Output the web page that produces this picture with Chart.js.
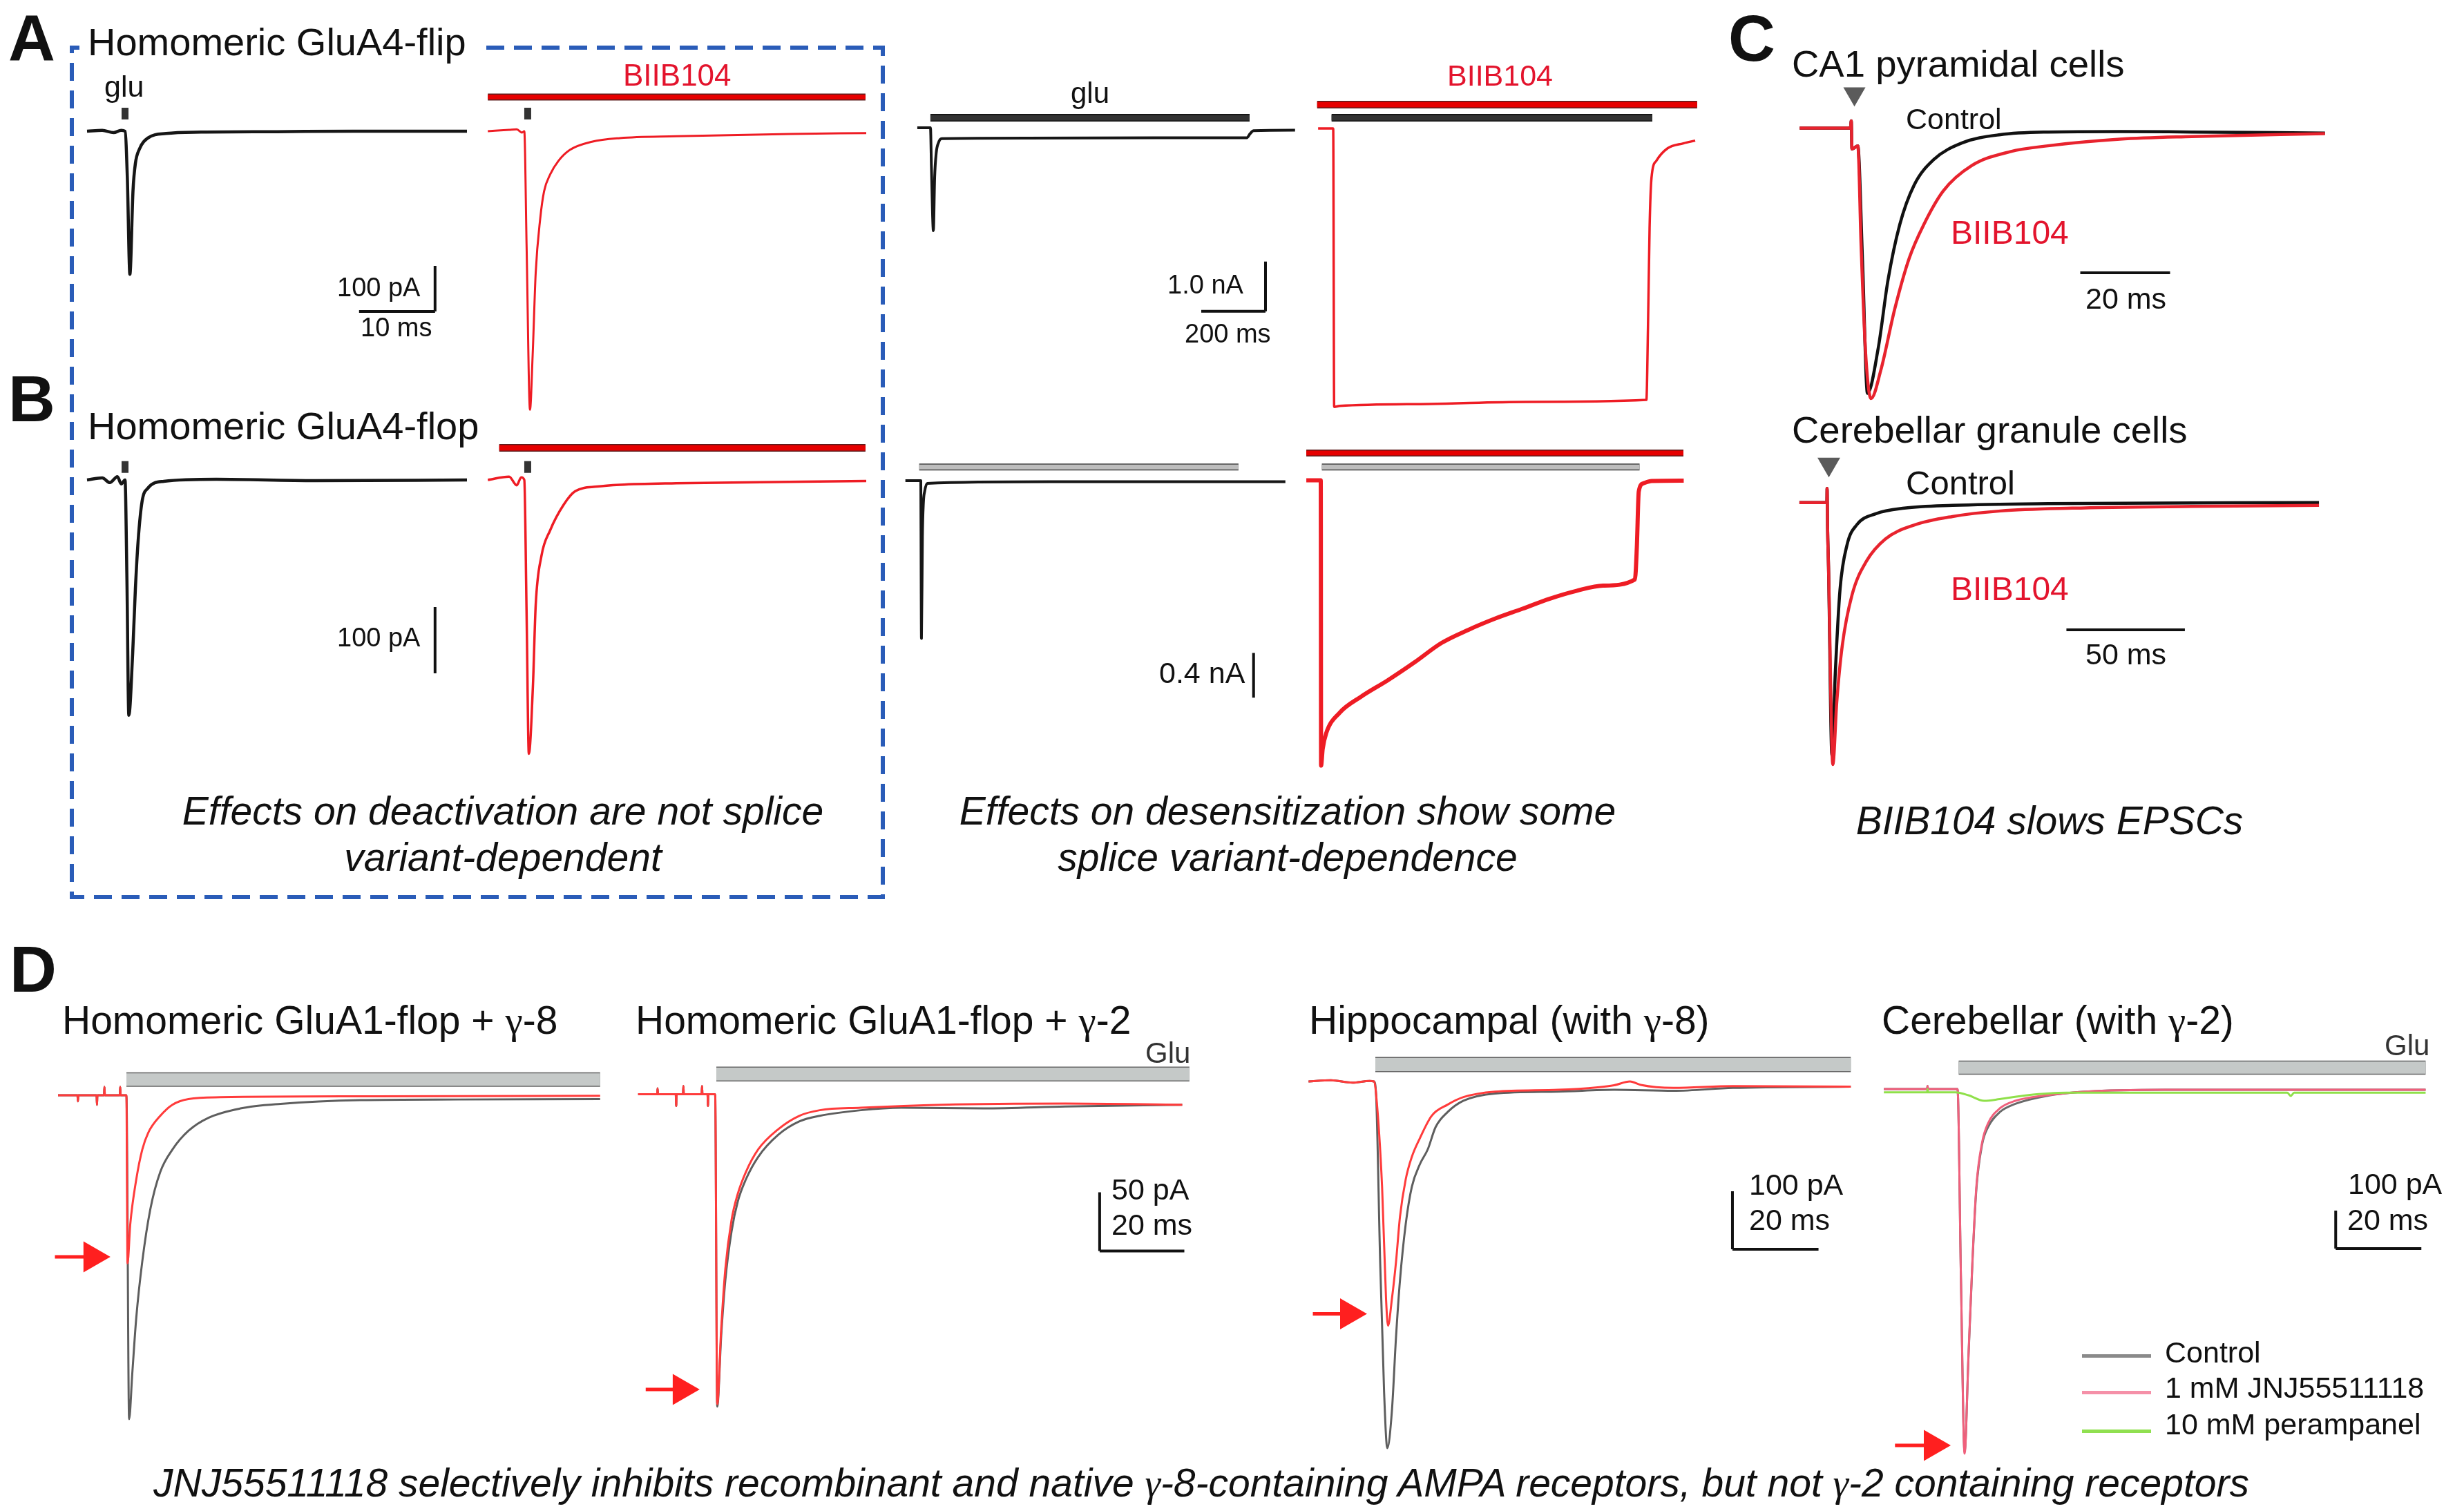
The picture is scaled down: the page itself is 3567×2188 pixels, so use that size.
<!DOCTYPE html>
<html>
<head>
<meta charset="utf-8">
<script src="https://cdn.jsdelivr.net/npm/chart.js@4.4.1/dist/chart.umd.min.js"></script>
<style>
  body { margin: 0; background: #fff; }
  #page { position: relative; width: 3567px; height: 2188px; overflow: hidden;
          font-family: "Liberation Sans", Arial, sans-serif; color: #111; background: #fff; }
  .t { position: absolute; white-space: nowrap; line-height: 1; }
  .g { font-family: "Liberation Serif", "DejaVu Serif", serif; }
  canvas { position: absolute; }
  .key { position: absolute; height: 5px; width: 100px; left: 3014px; }
</style>
</head>
<body>
<div id="page">
  <svg width="3567" height="2188" style="position:absolute;left:0;top:0">
    <rect x="104" y="69" width="1174" height="1230" fill="none" stroke="#2a5cb8" stroke-width="6" stroke-dasharray="26 14"/>
  </svg>
</div>
<script>
// ---- A: GluA4-flip (time in ms, current in pA / nA) ----
const a1Time = [-5, -3, -1.5, -0.5, 0, 0.3, 0.64, 1.05, 1.36, 1.9, 3.0, 5.4, 10, 20, 30, 45];
const a1Glu  = [0, 2, -3, 2, 0, -100, -314, -130, -71, -39, -15, -5, -2, -1, 0, 0];
const a2Time = [-4.8, -2, -1, -0.3, 0, 0.3, 0.75, 1.1, 1.5, 2.1, 2.6, 3.4, 4.5, 6.0, 8.9, 12.6, 20, 35, 45];
const a2Biib = [0, 3, 4, -3, 0, -250, -611, -491, -311, -191, -132, -95, -65, -41, -23, -15, -11, -6, -4];
const a3Time = [-41, -5, 0, 3, 9, 13, 18, 25, 35, 300, 700, 985, 995, 1006, 1135];
const a3Glu  = [0, 0, 0, -0.8, -2.07, -1.0, -0.5, -0.3, -0.22, -0.21, -0.2, -0.2, -0.12, -0.06, -0.05];
const a4Time = [-47, -2, 0, 3, 20, 300, 600, 975, 980, 985, 991, 1006, 1041, 1090, 1127];
const a4Biib = [0, 0, 0, -5.6, -5.58, -5.54, -5.5, -5.46, -4.0, -2.0, -0.99, -0.65, -0.40, -0.30, -0.245];

// ---- B: GluA4-flop ----
const b1Time = [-5, -3, -2, -1, -0.5, 0, 0.25, 0.5, 1.0, 1.36, 1.73, 2.25, 3.0, 5.1, 12, 25, 45];
const b1Glu  = [0, 3, -4, 5, -6, 0, -150, -355, -263, -165, -91, -32, -12.5, -2, 1, -1, 0];
const b2Time = [-4.8, -2, -1, -0.4, 0, 0.3, 0.6, 1.13, 1.5, 2.25, 3.4, 5.2, 6.7, 9.6, 12.6, 20, 45];
const b2Biib = [0, 5, -8, 4, 0, -200, -413, -312, -189, -115, -76, -37, -17, -10, -7.3, -5, -1.5];
const b3Time = [-48, 0, 1, 2, 5, 8, 12, 20, 400, 800, 1135];
const b3Glu  = [0, 0, -0.8, -1.41, -0.5, -0.2, -0.096, -0.024, -0.01, -0.01, -0.01];
const b4Time = [-45, 0, 1, 6, 17, 58, 125, 209, 292, 376, 460, 544, 628, 712, 796, 879, 978, 984, 990, 1004, 1030, 1130];
const b4Biib = [0, 0, -2.55, -2.4, -2.26, -2.08, -1.935, -1.787, -1.627, -1.454, -1.336, -1.235, -1.148, -1.059, -0.988, -0.941, -0.886, -0.6, -0.1, -0.028, -0.006, -0.003];

// ---- C: EPSCs, normalised amplitude ----
const c1CtrlTime = [-11.5, -0.2, 0, 0.15, 1.45, 2.5, 3.6, 6.0, 8.15, 10.8, 14, 18.3, 24.7, 33.2, 43.8, 60, 75.8, 105.5];
const c1Ctrl     = [0, 0, 0.027, -0.079, -0.067, -0.5, -1.0, -0.83, -0.576, -0.364, -0.215, -0.12, -0.056, -0.025, -0.015, -0.013, -0.015, -0.019];
const c1BiibTime = [-11.5, -0.2, 0, 0.15, 1.45, 2.2, 3.2, 4.4, 6.55, 9.7, 12.9, 16.15, 20.5, 26.8, 35.4, 43.8, 59.8, 75.8, 105.5];
const c1Biib     = [0, 0, 0.027, -0.079, -0.067, -0.45, -0.85, -1.02, -0.915, -0.681, -0.491, -0.364, -0.237, -0.142, -0.089, -0.067, -0.042, -0.032, -0.021];
const c2CtrlTime = [-11.7, -0.1, 0, 0.2, 0.6, 2.04, 3.44, 5.45, 8.45, 12.5, 20.6, 32.65, 52.9, 93.3, 207.6];
const c2Ctrl     = [0, 0, 0.056, -0.1, -0.255, -1.0, -0.678, -0.344, -0.166, -0.088, -0.044, -0.022, -0.011, -0.004, 0];
const c2BiibTime = [-11.7, -0.1, 0, 0.2, 0.6, 2.42, 4.08, 6.4, 10.5, 16.6, 24.6, 36.7, 52.9, 73.2, 103.5, 154, 207.6];
const c2Biib     = [0, 0, 0.056, -0.1, -0.255, -1.036, -0.789, -0.566, -0.366, -0.232, -0.144, -0.089, -0.055, -0.033, -0.022, -0.015, -0.011];

// ---- D: JNJ55511118 (ms, pA) ----
const d1PreTime = [-16.5, -11.8, -11.7, -11.6, -7.2, -7.1, -7.0, -5.4, -5.3, -5.2, -1.6, -1.5, -1.4, -0.1];
const d1Pre     = [0, 0, -5, 0, 0, -8, 0, 0, 7, 0, 0, 7, 0, 0];
const d1CtrlTime = [0, 0.65, 1.42, 2.38, 3.83, 5.77, 8.17, 11.1, 14.97, 19.8, 27.5, 37.2, 56.5, 80, 114.3];
const d1Ctrl     = [0, -268, -230, -184, -137.5, -94.3, -63.4, -44.9, -29.4, -18.6, -10.9, -7.1, -4.0, -3.5, -3.1];
const d1JnjTime  = [0, 0.27, 0.93, 2.38, 3.83, 5.28, 8.17, 11.1, 14.97, 22.7, 60, 114.3];
const d1Jnj      = [0, -139, -106.7, -69.6, -44.9, -30.9, -17, -7.8, -3.1, -1.6, -0.8, -0.4];

const d2PreTime = [-18.2, -13.7, -13.6, -13.5, -9.3, -9.2, -9.1, -7.6, -7.5, -7.4, -3.2, -3.1, -3.0, -1.8, -1.7, -1.6, -0.1];
const d2Pre     = [0, 0, 5, 0, 0, -10, 0, 0, 7, 0, 0, 7, 0, 0, -10, 0, 0];
const d2CtrlTime = [0, 0.49, 1.42, 2.4, 3.86, 5.33, 7.26, 10.16, 14.96, 19.85, 24.7, 34.4, 44, 63.4, 82.7, 110.3];
const d2Ctrl     = [0, -266, -206, -158.5, -117, -91.5, -72.5, -53.4, -34.4, -23.2, -18.4, -13.6, -11.5, -12.1, -10.5, -8.9];
const d2JnjTime  = [0, 0.49, 1.42, 2.4, 3.86, 5.33, 7.26, 10.16, 14.96, 19.85, 24.7, 34.4, 53.7, 82.7, 110.3];
const d2Jnj      = [0, -264, -200, -149, -107.4, -85, -66.2, -47, -29.6, -18.4, -13.6, -11.5, -8.9, -7.9, -8.9];

const d3PreTime = [-15.2, -10, -5, -1, 0];
const d3Pre     = [0, 2, -2, 1, 0];
const d3CtrlTime = [0.48, 1.44, 2.36, 3.1, 4.17, 5.14, 6.05, 7.38, 8.8, 10.66, 12.49, 14.33, 17.1, 20.79, 28.15, 42.86, 55.8, 69.6, 83.45, 110.8];
const d3Ctrl     = [-20.7, -310, -536, -632, -568, -439, -342.6, -246, -181.7, -142.9, -117.3, -78.6, -52.9, -33.3, -20.7, -17.5, -14.3, -16.2, -11.1, -9.0];
const d3JnjTime  = [0.48, 1.89, 2.81, 3.27, 4.17, 5.14, 6.05, 7.38, 8.8, 10.66, 13.4, 17.1, 20.79, 28.15, 42.86, 52, 55.8, 59.5, 62, 69.6, 83.45, 110.8];
const d3Jnj      = [-20.7, -181.7, -374.8, -421, -375, -310, -233, -168.8, -130, -98, -59.3, -40, -27, -17.5, -14.3, -10, -6.5, 0, -6, -11.1, -7.9, -9.0];

const d4PreTime = [-17.2, -7.1, -7.0, -6.9, -0.3];
const d4Pre     = [0, 0, 8, 0, 0];
const d4Time    = [0, 0.8, 1.65, 2.56, 3.47, 4.39, 5.76, 7.13, 9.87, 13.5, 20.8, 29.87, 48.2, 109.3];
const d4Ctrl    = [0, -500, -955, -705, -460, -265, -145, -100, -60.7, -39, -18, -7, -1.8, -1.8];
const d4Jnj     = [0, -500, -960, -700, -454.5, -257.5, -139.5, -90.2, -50.9, -30.9, -16.4, -6.7, -1.8, -1.8];
const d4PerTime = [-17.2, -7.1, -7.0, -6.9, -0.5, 2.56, 6.2, 9.87, 16.2, 25.4, 77, 77.8, 78.6, 109.3];
const d4Per     = [-8.5, -8.5, 0, -8.5, -8.5, -16.4, -30.9, -26.4, -16.4, -9.6, -9.6, -18, -9.6, -9.6];

const page = document.getElementById('page');
const zip = (t, v) => t.map((x, i) => ({ x: x, y: v[i] }));

function trace(t, v, color, width) {
  return { data: zip(t, v), borderColor: color, borderWidth: width, pointRadius: 0,
           cubicInterpolationMode: 'monotone', borderJoinStyle: 'round', fill: false };
}
function seg(x1, y1, x2, y2, color, width) {
  return { data: [{ x: x1, y: y1 }, { x: x2, y: y2 }], borderColor: color, borderWidth: width,
           pointRadius: 0, tension: 0, fill: false };
}
function bar(t1, t2, y, fill, edge, thick) {
  return [seg(t1, y, t2, y, fill, thick - 3), seg(t1, y, t2, y, edge, thick)];
}
function head(x, y, color, r, rot) {
  return { data: [{ x: x, y: y }], showLine: false, pointStyle: 'triangle', pointRadius: r,
           pointRotation: rot, pointBackgroundColor: color, pointBorderWidth: 0 };
}

// one small chart per trace panel; box gives pixel origin and px per unit
function panel(box, datasets) {
  const c = document.createElement('canvas');
  c.width = box.w; c.height = box.h;
  c.style.left = box.left + 'px'; c.style.top = box.top + 'px';
  page.appendChild(c);
  new Chart(c, {
    type: 'line',
    data: { datasets: datasets },
    options: {
      responsive: false, animation: false, devicePixelRatio: 1, events: [],
      layout: { padding: 0, autoPadding: false },
      scales: {
        x: { type: 'linear', display: false,
             min: (box.left - box.x0) / box.sx, max: (box.left + box.w - box.x0) / box.sx },
        y: { type: 'linear', display: false,
             min: (box.y0 - box.top - box.h) / box.sy, max: (box.y0 - box.top) / box.sy }
      },
      plugins: { legend: { display: false }, tooltip: { enabled: false } }
    }
  });
}

function label(str, x, base, size, opt) {
  opt = opt || {};
  const d = document.createElement('div');
  d.className = 't';
  d.innerHTML = str;
  d.style.fontSize = size + 'px';
  d.style.top = (base - 0.8465 * size) + 'px';
  d.style.left = x + 'px';
  if (opt.center) d.style.transform = 'translateX(-50%)';
  if (opt.color) d.style.color = opt.color;
  if (opt.bold) d.style.fontWeight = 'bold';
  if (opt.italic) d.style.fontStyle = 'italic';
  if (opt.bg) { d.style.background = '#fff'; d.style.padding = '0 20px 0 12px'; d.style.marginLeft = '-12px'; }
  page.appendChild(d);
}

const BLK = '#161616', RED = '#ee1c24', DRED = '#5b1d1d', DARK = '#333', GRAYF = '#c5c9c8', GRAYE = '#666';
const SB = '#111';

// ---- panel A ----
panel({ left: 100, top: 110, w: 620, h: 360, x0: 181, y0: 190, sx: 11, sy: 0.66 }, [
  trace(a1Time, a1Glu, BLK, 4.5),
  seg(0, 25.8, 0, 51.5, '#333', 10),
  seg(40.8, -295.5, 40.8, -395.5, SB, 4),
  seg(30.8, -395.5, 40.8, -395.5, SB, 4)
]);
panel({ left: 690, top: 110, w: 600, h: 510, x0: 759, y0: 190, sx: 11, sy: 0.66 }, [
  trace(a2Time, a2Biib, RED, 3),
  seg(0.45, 25.8, 0.45, 51.5, '#333', 10),
  ...bar(-4.8, 44.9, 75, '#e60000', DRED, 10)
]);
panel({ left: 1300, top: 140, w: 600, h: 330, x0: 1347, y0: 185, sx: 0.465, sy: 72 }, [
  trace(a3Time, a3Glu, BLK, 4),
  ...bar(-0.2, 993.5, 0.2, DARK, '#111', 11),
  seg(1043, -2.69, 1043, -3.69, SB, 4),
  seg(843, -3.69, 1043, -3.69, SB, 4)
]);
panel({ left: 1880, top: 120, w: 600, h: 490, x0: 1930, y0: 186, sx: 0.465, sy: 72 }, [
  trace(a4Time, a4Biib, RED, 3.5),
  ...bar(-50, 1133, 0.48, '#e60000', DRED, 11),
  ...bar(-5, 993.5, 0.215, DARK, '#111', 11)
]);

// ---- panel B ----
panel({ left: 100, top: 620, w: 620, h: 440, x0: 181, y0: 695, sx: 11, sy: 0.96 }, [
  trace(b1Time, b1Glu, BLK, 4.5),
  seg(0, 10.7, 0, 28.4, '#333', 10),
  seg(40.8, -191.7, 40.8, -291.7, SB, 4)
]);
panel({ left: 690, top: 620, w: 600, h: 500, x0: 759, y0: 695, sx: 11, sy: 0.96 }, [
  trace(b2Time, b2Biib, RED, 3.5),
  seg(0.45, 10.7, 0.45, 28.4, '#333', 10),
  ...bar(-3.3, 44.9, 48.4, '#e60000', DRED, 11)
]);
panel({ left: 1290, top: 640, w: 600, h: 400, x0: 1333, y0: 696, sx: 0.465, sy: 162 }, [
  trace(b3Time, b3Glu, BLK, 4),
  ...bar(-5, 989, 0.122, '#bdbdbd', '#444', 10),
  seg(1036, -1.54, 1036, -1.94, SB, 4)
]);
panel({ left: 1870, top: 630, w: 600, h: 500, x0: 1912, y0: 695.5, sx: 0.465, sy: 162 }, [
  trace(b4Time, b4Biib, RED, 6),
  ...bar(-45, 1129, 0.244, '#e60000', DRED, 10),
  ...bar(3.4, 992.5, 0.119, '#bdbdbd', '#444', 10)
]);

// ---- panel C ----
panel({ left: 2580, top: 110, w: 820, h: 500, x0: 2680, y0: 185.4, sx: 6.5, sy: 384 }, [
  trace(c1BiibTime, c1Biib, '#e8232e', 4.5),
  trace(c1CtrlTime, c1Ctrl, '#111', 4.5),
  head(0.7, 0.129, '#5b5b5b', 18.5, 180),
  seg(51, -0.546, 71, -0.546, SB, 4)
]);
panel({ left: 2580, top: 650, w: 820, h: 480, x0: 2645, y0: 727.8, sx: 3.43, sy: 366 }, [
  trace(c2BiibTime, c2Biib, '#e8232e', 4.5),
  trace(c2CtrlTime, c2Ctrl, '#111', 4.5),
  head(0.73, 0.152, '#5b5b5b', 19, 180),
  seg(101, -0.503, 151, -0.503, SB, 4)
]);

// ---- panel D ----
const DG = '#5e5e5e', DR = '#ff3b3b', ARW = '#ff1f1f';
panel({ left: 60, top: 1520, w: 840, h: 560, x0: 183, y0: 1586, sx: 6, sy: 1.75 }, [
  trace(d1PreTime.concat(d1JnjTime), d1Pre.concat(d1Jnj), DR, 3),
  trace(d1PreTime.concat(d1CtrlTime), d1Pre.concat(d1Ctrl), DG, 3),
  ...bar(0, 114.3, 13, GRAYF, GRAYE, 21),
  head(-8.2, -133.7, ARW, 26, 90),
  seg(-17.25, -133.7, -8.2, -133.7, ARW, 5)
]);
panel({ left: 900, top: 1520, w: 860, h: 540, x0: 1035.3, y0: 1584.5, sx: 6.13, sy: 1.7 }, [
  trace(d2PreTime.concat(d2JnjTime), d2Pre.concat(d2Jnj), DR, 3),
  trace(d2PreTime.concat(d2CtrlTime), d2Pre.concat(d2Ctrl), DG, 3),
  ...bar(0.28, 112, 17.2, GRAYF, GRAYE, 21.6),
  head(-7.9, -251.5, ARW, 26, 90),
  seg(-16.4, -251.5, -7.9, -251.5, ARW, 5),
  seg(90.8, -83.6, 90.8, -133.6, SB, 4),
  seg(90.8, -133.6, 110.8, -133.6, SB, 4)
]);
panel({ left: 1870, top: 1500, w: 840, h: 620, x0: 1989, y0: 1566, sx: 6.23, sy: 0.84 }, [
  trace(d3PreTime.concat(d3JnjTime), d3Pre.concat(d3Jnj), DR, 3),
  trace(d3PreTime.concat(d3CtrlTime), d3Pre.concat(d3Ctrl), DG, 3),
  ...bar(0.32, 110.8, 29.2, GRAYF, GRAYE, 22),
  head(-5.78, -400.6, ARW, 26, 90),
  seg(-14.2, -400.6, -5.78, -400.6, ARW, 5),
  seg(83.3, -189.3, 83.3, -289.3, SB, 4),
  seg(83.3, -289.3, 103.3, -289.3, SB, 4)
]);
panel({ left: 2710, top: 1500, w: 840, h: 640, x0: 2833.8, y0: 1577, sx: 6.2, sy: 0.55 }, [
  trace(d4PerTime, d4Per, '#8fe04a', 3),
  trace(d4PreTime.concat(d4Time), d4Pre.concat(d4Jnj), '#f0607c', 3),
  trace(d4PreTime.concat(d4Time), d4Pre.concat(d4Ctrl), '#6a6a6a', 3),
  ...bar(0.27, 109.3, 56.3, GRAYF, GRAYE, 20.5),
  head(-5.77, -938, ARW, 26, 90),
  seg(-14.6, -938, -5.77, -938, ARW, 5),
  seg(88.3, -320, 88.3, -420, SB, 4),
  seg(88.3, -420, 108.3, -420, SB, 4)
]);

// ---- text ----
const BI = '#e3142d';
label('A', 12, 89, 94, { bold: true });
label('B', 12, 611, 94, { bold: true });
label('C', 2502, 89, 94, { bold: true });
label('D', 14, 1437, 94, { bold: true });

label('Homomeric GluA4-flip', 127, 80, 56, { bg: true });
label('Homomeric GluA4-flop', 127, 636, 56);
label('glu', 151, 140, 43);
label('BIIB104', 902, 124, 44, { color: BI });
label('100 pA', 488, 429, 38);
label('10 ms', 522, 487, 38);
label('glu', 1550, 150, 42);
label('BIIB104', 2095, 124, 43, { color: BI });
label('1.0 nA', 1690, 425, 38);
label('200 ms', 1715, 496, 38);
label('100 pA', 488, 936, 38);
label('0.4 nA', 1678, 989, 43);
label('Effects on deactivation are not splice', 728, 1194, 57, { italic: true, center: true });
label('variant-dependent', 728, 1261, 57, { italic: true, center: true });
label('Effects on desensitization show some', 1864, 1194, 57, { italic: true, center: true });
label('splice variant-dependence', 1864, 1261, 57, { italic: true, center: true });

label('CA1 pyramidal cells', 2594, 112, 54.5);
label('Control', 2759, 187, 43);
label('BIIB104', 2824, 354, 48, { color: BI });
label('20 ms', 3019, 447, 43);
label('Cerebellar granule cells', 2594, 642, 54.5);
label('Control', 2759, 716, 49);
label('BIIB104', 2824, 870, 48, { color: BI });
label('50 ms', 3019, 962, 43);
label('BIIB104 slows EPSCs', 2967, 1208, 57, { italic: true, center: true });

label('Homomeric GluA1-flop + <span class="g">γ</span>-8', 90, 1497, 57);
label('Homomeric GluA1-flop + <span class="g">γ</span>-2', 920, 1497, 57);
label('Hippocampal (with <span class="g">γ</span>-8)', 1895, 1497, 57);
label('Cerebellar (with <span class="g">γ</span>-2)', 2724, 1497, 57);
label('Glu', 1658, 1540, 42, { color: '#333' });
label('50 pA', 1609, 1737, 43);
label('20 ms', 1609, 1788, 43);
label('100 pA', 2532, 1730, 43);
label('20 ms', 2532, 1781, 43);
label('Glu', 3452, 1529, 42, { color: '#333' });
label('100 pA', 3399, 1729, 43);
label('20 ms', 3398, 1781, 43);
label('Control', 3134, 1973, 43);
label('1 mM JNJ55511118', 3134, 2024, 43);
label('10 mM perampanel', 3134, 2077, 43);
label('JNJ55511118 selectively inhibits recombinant and native <span class="g">γ</span>-8-containing AMPA receptors, but not <span class="g">γ</span>-2 containing receptors',
      1739, 2167, 57, { italic: true, center: true });

// legend keys
[['#8a8a8a', 1961], ['#f590a8', 2014], ['#90e050', 2070]].forEach(function (k) {
  const d = document.createElement('div');
  d.className = 'key'; d.style.background = k[0]; d.style.top = k[1] + 'px';
  page.appendChild(d);
});
</script>
</body>
</html>
